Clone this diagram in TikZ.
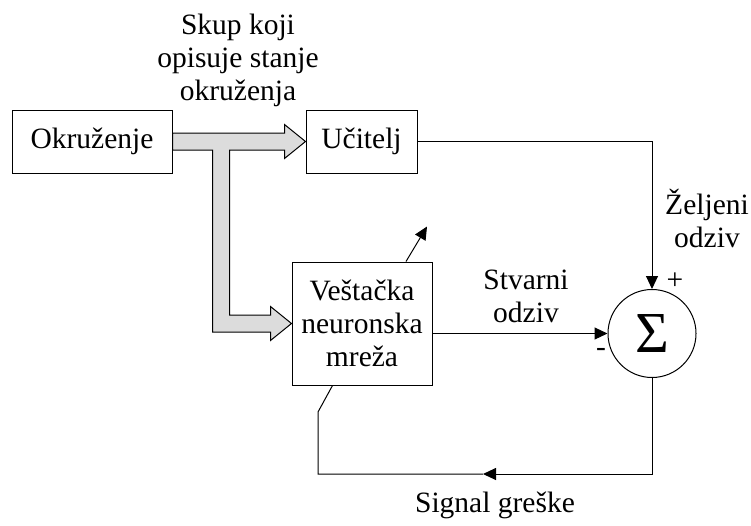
\documentclass[tikz,border=0pt]{standalone}
\usepackage{fontspec}
\setmainfont{Liberation Serif}
\usepackage{tikz}
\usetikzlibrary{arrows.meta,positioning,calc}
\definecolor{bandgrey}{HTML}{DCDCDC}

\begin{document}
\begin{tikzpicture}[x=1pt,y=-1pt,
 font=\fontsize{29.5}{33}\selectfont,
 box/.style={draw,line width=1pt,align=center,inner sep=0pt},
 wire/.style={draw,line width=1pt},
 tip/.style={-{Triangle[length=13pt,width=12pt]}},
 sumnode/.style={draw,circle,line width=1pt,minimum size=88pt,inner sep=0pt},
 lbl/.style={align=center,anchor=base,inner sep=0pt}]
\useasboundingbox (0,0) rectangle (751,525);
\node[box,minimum width=160pt,minimum height=63pt] (okr) at (92,141.5) {Okruženje};
\node[box,minimum width=111pt,minimum height=63pt] (uci) at (361.5,141.5) {Učitelj};
\node[box,minimum width=140pt,minimum height=123pt] (ann) at (362,323.5) {Veštačka\\neuronska\\mreža};
\node[sumnode] (sum) at (652,333.5) {\fontsize{58}{58}\selectfont Σ};
\filldraw[fill=bandgrey,line width=1pt,line join=miter]
 ($(okr.east)+(0,-8.5)$) -- ($(uci.west)+(-21,-8.5)$) -- ($(uci.west)+(-21,-17)$) -- (uci.west)
 -- ($(uci.west)+(-21,17)$) -- ($(uci.west)+(-21,8.5)$) -- ($(okr.east)+(57,8.5)$)
 -- ($(okr.east|-ann.west)+(57,-8.5)$) -- ($(ann.west)+(-21,-8.5)$) -- ($(ann.west)+(-21,-17)$) -- (ann.west)
 -- ($(ann.west)+(-21,17)$) -- ($(ann.west)+(-21,8.5)$) -- ($(okr.east|-ann.west)+(40,8.5)$)
 -- ($(okr.east)+(40,8.5)$) -- ($(okr.east)+(0,8.5)$) -- cycle;
\draw[wire,tip] (uci.east) -| (sum.north);
\draw[wire,tip] (ann.east|-sum.west) -- (sum.west);
\draw[wire,tip] ($(ann.north)+(44,0)$) -- ++(21,-35);
\coordinate (fbmid) at (483,474);
\coordinate (fbcorner) at (318,474);
\draw[wire,tip] (sum.south) |- (fbmid);
\draw[wire] (fbmid) -- (fbcorner) -- ++(0,-62) -- ($(ann.south west)+(41,0)$);
\node[lbl] (skup) at (238,100) {Skup koji\\opisuje stanje\\okruženja};
\node[lbl] (zelj) at (707,247) {Željeni\\odziv};
\node[lbl] (stv) at (526,322) {Stvarni\\odziv};
\node[lbl] (sig) at (495,512) {Signal greške};
\node[lbl] (plus) at (675,289) {+};
\node[lbl] (minus) at (601,356) {-};
\end{tikzpicture}
\end{document}
